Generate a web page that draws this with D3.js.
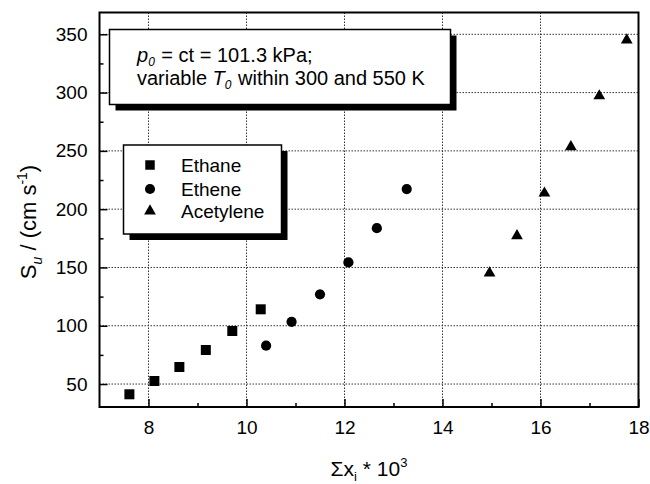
<!DOCTYPE html>
<html><head><meta charset="utf-8">
<script src="https://cdn.jsdelivr.net/npm/d3@7"></script>
<style>body{margin:0;background:#fff}svg{display:block}text{font-family:"Liberation Sans",Arial,sans-serif;fill:#000}</style>
</head><body><svg id="c" width="650" height="484"></svg>
<script>
const ethaneX = [7.61, 8.12, 8.63, 9.17, 9.71, 10.29];
const ethaneY = [41.2, 52.6, 64.6, 79.2, 95.5, 114.1];
const etheneX = [10.40, 10.92, 11.50, 12.08, 12.66, 13.27];
const etheneY = [82.9, 103.4, 127.0, 154.3, 183.7, 217.2];
const acetyleneX = [14.96, 15.52, 16.08, 16.62, 17.20, 17.76];
const acetyleneY = [145.1, 177.1, 213.7, 253.4, 297.1, 345.1];
const xTicks = [8, 10, 12, 14, 16, 18];
const yTicks = [50, 100, 150, 200, 250, 300, 350];
const seriesNames = ["Ethane", "Ethene", "Acetylene"];

const svg = d3.select("#c");
const L = 99.5, R = 638.5, T = 12.5, B = 407;
const x = d3.scaleLinear().domain([7, 18]).range([L, R]);
const y = d3.scaleLinear().domain([30.3, 368.7]).range([B, T]);

// gridlines
const grid = svg.append("g").attr("stroke", "#333").attr("stroke-width", 1).attr("stroke-dasharray", "1.5,1.5");
xTicks.filter(t => t < 18).forEach(t => grid.append("line").attr("x1", x(t)).attr("x2", x(t)).attr("y1", T).attr("y2", B));
yTicks.forEach(t => grid.append("line").attr("x1", L).attr("x2", R).attr("y1", y(t)).attr("y2", y(t)));

// axes
const xAxis = d3.axisBottom(x).tickValues(xTicks).tickSizeInner(-8).tickSizeOuter(0).tickPadding(14);
const xMinor = d3.axisBottom(x).tickValues([9, 11, 13, 15, 17]).tickSizeInner(-4).tickSizeOuter(0).tickFormat("");
const yAxis = d3.axisLeft(y).tickValues(yTicks).tickSizeInner(-8).tickSizeOuter(0).tickPadding(12);
const yMinor = d3.axisLeft(y).tickValues([75, 125, 175, 225, 275, 325]).tickSizeInner(-4).tickSizeOuter(0).tickFormat("");
function style(g){ g.select(".domain").remove(); g.selectAll("line").attr("stroke","#000").attr("stroke-width",1.5); g.selectAll("text").style("font-size","19px").attr("fill","#000"); }
svg.append("g").attr("transform", `translate(0,${B})`).call(xAxis).call(style);
svg.append("g").attr("transform", `translate(0,${B})`).call(xMinor).call(style);
svg.append("g").attr("transform", `translate(${L},0)`).call(yAxis).call(style);
svg.append("g").attr("transform", `translate(${L},0)`).call(yMinor).call(style);
svg.append("rect").attr("x", L).attr("y", T).attr("width", R - L).attr("height", B - T).attr("fill", "none").attr("stroke", "#000").attr("stroke-width", 2);

// annotation box
svg.append("rect").attr("x", 115.5).attr("y", 35.5).attr("width", 341).attr("height", 75).attr("fill", "#000");
svg.append("rect").attr("x", 109.5).attr("y", 29.5).attr("width", 341).attr("height", 75).attr("fill", "#fff").attr("stroke", "#000").attr("stroke-width", 1.5);
const t1 = svg.append("text").attr("x", 137).attr("y", 62).style("font-size", "20px");
t1.append("tspan").attr("font-style", "italic").text("p");
t1.append("tspan").attr("font-style", "italic").attr("dy", 4).style("font-size", "12px").text("0");
t1.append("tspan").attr("dy", -4).attr("dx", 1).text(" = ct = 101.3 kPa;");
const t2 = svg.append("text").attr("x", 137).attr("y", 85).style("font-size", "20px");
t2.append("tspan").text("variable ");
t2.append("tspan").attr("font-style", "italic").text("T");
t2.append("tspan").attr("font-style", "italic").attr("dy", 4).style("font-size", "12px").text("0");
t2.append("tspan").attr("dy", -4).attr("dx", 1).text(" within 300 and 550 K");

// legend
svg.append("rect").attr("x", 129.5).attr("y", 151).attr("width", 158).attr("height", 89).attr("fill", "#000");
svg.append("rect").attr("x", 123.5).attr("y", 145).attr("width", 158).attr("height", 89).attr("fill", "#fff").attr("stroke", "#000").attr("stroke-width", 1.5);

const symbols = [d3.symbolSquare, d3.symbolCircle, d3.symbolTriangle];
const sizes = [90, 80, 60];
const legendY = [165, 189, 211];
seriesNames.forEach((n, i) => {
  svg.append("path").attr("d", d3.symbol(symbols[i], sizes[i])()).attr("transform", `translate(150,${legendY[i]})`).attr("fill", "#000");
  svg.append("text").attr("x", 181).attr("y", legendY[i] + 6.5).style("font-size", "19px").text(n);
});

// data
const data = [[ethaneX, ethaneY], [etheneX, etheneY], [acetyleneX, acetyleneY]];
data.forEach(([xs, ys], i) => {
  svg.append("g").selectAll("path").data(xs.map((v, j) => [v, ys[j]])).join("path")
    .attr("d", d3.symbol(symbols[i], [100, 82, 60][i])())
    .attr("transform", d => `translate(${x(d[0])},${y(d[1])})`).attr("fill", "#000");
});

// titles
const xt = svg.append("text").attr("x", (L + R) / 2).attr("y", 476).attr("text-anchor", "middle").style("font-size", "21px");
xt.append("tspan").text("Σx");
xt.append("tspan").attr("dy", 5).style("font-size", "13px").text("i");
xt.append("tspan").attr("dy", -5).text(" * 10");
xt.append("tspan").attr("dy", -9).style("font-size", "13px").text("3");

const yt = svg.append("text").attr("transform", `translate(36,222) rotate(-90)`).attr("text-anchor", "middle").style("font-size", "22px");
yt.append("tspan").text("S");
yt.append("tspan").attr("font-style", "italic").attr("dy", 6).style("font-size", "14px").text("u");
yt.append("tspan").attr("dy", -6).text(" / (cm s");
yt.append("tspan").attr("dy", -9).style("font-size", "14px").text("-1");
yt.append("tspan").attr("dy", 9).text(")");
</script></body></html>
